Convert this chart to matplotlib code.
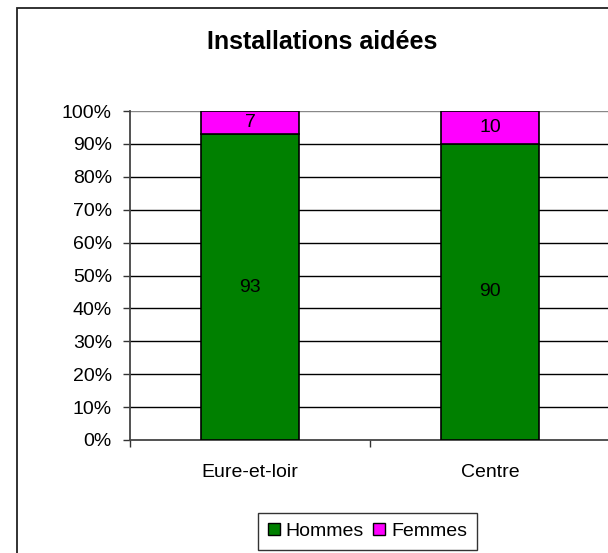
import matplotlib
matplotlib.use("Agg")
import matplotlib.pyplot as plt
from matplotlib.patches import Rectangle, Patch
import numpy as np

categories = ["Eure-et-loir", "Centre"]
hommes = [93, 90]
femmes = [7, 10]
series_names = ["Hommes", "Femmes"]
yticks = [0, 10, 20, 30, 40, 50, 60, 70, 80, 90, 100]
ytick_labels = [f"{v}%" for v in yticks]
title = "Installations aidées"

plt.rcParams['font.family'] = ['Liberation Sans', 'DejaVu Sans']

W, H = 608, 553
fig = plt.figure(figsize=(W/100, H/100), dpi=100)

# outer chart frame (extends beyond right/bottom edge)
fig.patches.append(Rectangle((16.7/W, -0.2), 2.0, 1.2 - 7.5/H, transform=fig.transFigure,
                             fill=False, edgecolor='#222222', linewidth=1.3))

ax = fig.add_axes([130/W, (H-440)/H, 480/W, 329/H])
x = np.arange(len(categories))
green = '#008000'
magenta = '#FF00FF'
ax.bar(x, hommes, width=0.405, color=green, edgecolor='black', linewidth=1.2, zorder=3)
ax.bar(x, femmes, bottom=hommes, width=0.405, color=magenta, edgecolor='black', linewidth=1.2, zorder=3)

for i in range(len(categories)):
    ax.text(x[i], hommes[i]/2, str(hommes[i]), ha='center', va='center', fontsize=14, zorder=4)
    ax.text(x[i], hommes[i] + femmes[i]/2, str(femmes[i]), ha='center', va='center', fontsize=14, zorder=4)

ax.set_xlim(-0.5, 1.5)
ax.set_ylim(0, 100)
ax.set_yticks(yticks)
ax.set_yticklabels(ytick_labels, fontsize=14)
for yv in yticks[1:]:
    ax.axhline(yv, color='#888888' if yv == 100 else 'black', linewidth=1.0, zorder=1)

ax.set_xticks([-0.5, 0.5])
ax.set_xticklabels(['', ''])
ax.set_xticks(x, minor=True)
ax.set_xticklabels(categories, minor=True, fontsize=14)
ax.tick_params(axis='x', which='major', length=5, width=1, color='#333333', direction='out')
ax.tick_params(axis='x', which='minor', length=0, pad=17)
ax.tick_params(axis='y', length=5, width=1, color='#333333', direction='out', pad=8)

for s in ['top', 'right']:
    ax.spines[s].set_visible(False)
for s in ['left', 'bottom']:
    ax.spines[s].set_color('#444444')
    ax.spines[s].set_linewidth(1.3)

fig.text(322/W, 1 - 42/H, title, ha='center', va='center', fontsize=18, fontweight='bold')

handles = [Patch(facecolor=green, edgecolor='black', label=series_names[0]),
           Patch(facecolor=magenta, edgecolor='black', label=series_names[1])]
leg = fig.legend(handles=handles, loc='center', bbox_to_anchor=(367.5/W, 1 - 531.5/H),
                 ncol=2, frameon=True, fancybox=False, fontsize=14,
                 handlelength=0.6, handleheight=0.6, handletextpad=0.3, columnspacing=0.5,
                 borderpad=0.5)
leg.get_frame().set_edgecolor('black')
leg.get_frame().set_linewidth(1.0)

fig.savefig("out.png", dpi=100)
